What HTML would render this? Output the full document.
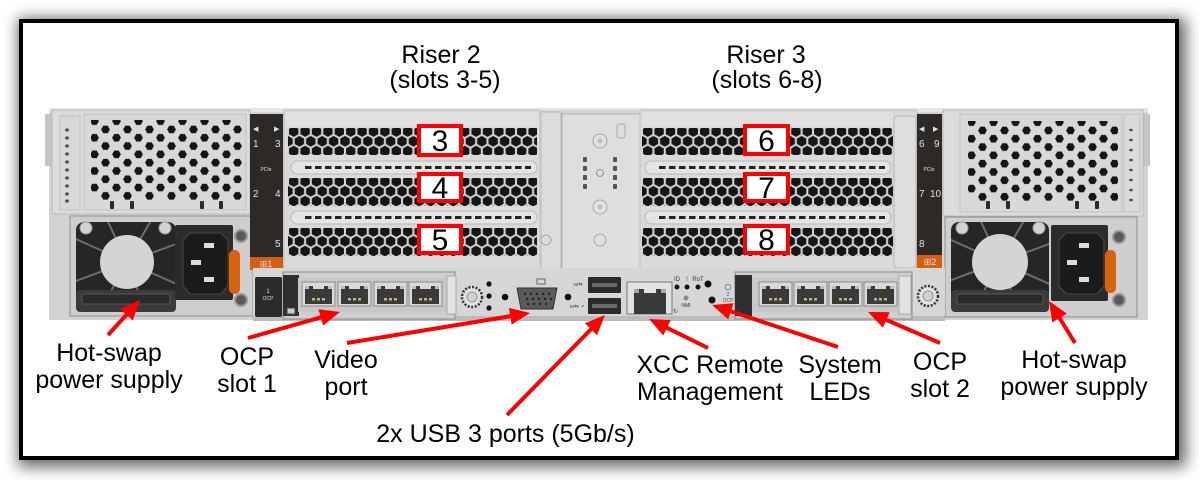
<!DOCTYPE html>
<html><head><meta charset="utf-8"><title>Server rear view</title>
<style>
html,body{margin:0;padding:0;background:#fff;}
body{width:1199px;height:480px;overflow:hidden;position:relative;}
#frame{position:absolute;left:19px;top:19px;width:1160px;height:441px;box-sizing:border-box;border:4px solid #000;background:#fff;box-shadow:3px 3px 14px 4px rgba(0,0,0,0.6);}
svg{position:absolute;left:0;top:0;}
</style></head><body>
<div id="frame"></div>
<svg width="1199" height="480" viewBox="0 0 1199 480" xmlns="http://www.w3.org/2000/svg" font-family="'Liberation Sans', Arial, sans-serif">
<defs>
  <pattern id="vent" width="22" height="16.6" patternUnits="userSpaceOnUse">
    <rect width="22" height="16.6" fill="#d8d8d8"/>
    <polygon points="1.1,4.15 3.3,0.34 7.7,0.34 9.9,4.15 7.7,7.96 3.3,7.96" fill="#151515"/>
    <polygon points="12.1,12.45 14.3,8.64 18.7,8.64 20.9,12.45 18.7,16.26 14.3,16.26" fill="#151515"/>
  </pattern>
  <pattern id="slot" width="11.4" height="19.6" patternUnits="userSpaceOnUse">
    <rect width="11.4" height="19.6" fill="#d3d3d3"/>
    <polygon points="5.7,-0.5 10.38,2.2 10.38,7.6 5.7,10.3 1.02,7.6 1.02,2.2" fill="#161616"/>
    <polygon points="5.7,19.1 10.38,21.8 10.38,27.2 5.7,29.9 1.02,27.2 1.02,21.8" fill="#161616"/>
    <polygon points="0,9.3 4.68,12 4.68,17.4 0,20.1 -4.68,17.4 -4.68,12" fill="#161616"/>
    <polygon points="11.4,9.3 16.08,12 16.08,17.4 11.4,20.1 6.72,17.4 6.72,12" fill="#161616"/>
    <polygon points="0,-10.3 4.68,-7.6 4.68,-2.2 0,0.5 -4.68,-2.2 -4.68,-7.6" fill="#161616"/>
    <polygon points="11.4,-10.3 16.08,-7.6 16.08,-2.2 11.4,0.5 6.72,-2.2 6.72,-7.6" fill="#161616"/>
  </pattern>
  <marker id="ah" viewBox="0 0 20 17" markerWidth="20" markerHeight="17" refX="10" refY="8.5" orient="auto" markerUnits="userSpaceOnUse">
    <path d="M0,0 L20,8.5 L0,17 z" fill="#ff0000"/>
  </marker>
  <clipPath id="fanL"><rect x="76" y="222" width="100" height="90" rx="8"/></clipPath>
  <clipPath id="fanR"><rect x="951" y="222" width="98" height="90" rx="8"/></clipPath>
  <g id="rj">
    <rect width="33" height="24" fill="#dadada" stroke="#8a8a8a"/>
    <rect x="3" y="4" width="27" height="18" fill="#3a3a3a"/>
    <rect x="11" y="4" width="11" height="3" fill="#d9d9d9"/>
    <rect x="3" y="4" width="4" height="3" fill="#bdbdbd"/>
    <rect x="26" y="4" width="4" height="3" fill="#bdbdbd"/>
    <rect x="10" y="16" width="3" height="2.5" fill="#c9b57a"/>
    <rect x="15" y="16" width="3" height="2.5" fill="#c9b57a"/>
    <rect x="20" y="16" width="3" height="2.5" fill="#c9b57a"/>
  </g>
  <g id="sep">
    <rect x="0" y="0" width="246" height="13" rx="6.5" fill="#e4e4e4" stroke="#b9b9b9"/>
    <line x1="14" y1="6.5" x2="240" y2="6.5" stroke="#222" stroke-width="3" stroke-dasharray="6.5 3.5"/>
  </g>
  <g id="knob">
    <circle r="10" fill="#e2e2e2" stroke="#333" stroke-width="2.5" stroke-dasharray="2 1.6"/>
    <circle r="5" fill="#d0d0d0" stroke="#999"/>
  </g>
</defs>

<!-- chassis base -->
<rect x="49" y="108" width="1099" height="212" fill="#d3d3d3"/>
<rect x="49" y="108" width="1099" height="4" fill="#e6e6e6"/>
<rect x="45" y="114" width="7" height="52" fill="#c4c4c4"/>
<rect x="1143" y="114" width="7" height="52" fill="#c4c4c4"/>

<!-- left vent -->
<rect x="52" y="110" width="198" height="104" fill="#dcdcdc" stroke="#b8b8b8"/>
<rect x="60" y="116" width="20" height="94" fill="#d8d8d8" stroke="#c0c0c0"/>
<rect x="84" y="114" width="162" height="96" fill="#d8d8d8" stroke="#c2c2c2"/>
<g transform="translate(89,117)"><rect x="2" y="3" width="152" height="80" fill="url(#vent)"/></g>
<g fill="#555">
<ellipse cx="67" cy="130" rx="2" ry="1.6"/><ellipse cx="67" cy="138" rx="2" ry="1.6"/><ellipse cx="67" cy="146" rx="2" ry="1.6"/><ellipse cx="67" cy="154" rx="2" ry="1.6"/><ellipse cx="67" cy="162" rx="2" ry="1.6"/><ellipse cx="67" cy="170" rx="2" ry="1.6"/><ellipse cx="67" cy="178" rx="2" ry="1.6"/><ellipse cx="67" cy="186" rx="2" ry="1.6"/><ellipse cx="67" cy="194" rx="2" ry="1.6"/><ellipse cx="67" cy="201" rx="2" ry="1.6"/>
</g>
<g fill="#2a2a2a"><rect x="110" y="201" width="4" height="8" rx="1"/><rect x="130" y="201" width="4" height="8" rx="1"/><rect x="200" y="201" width="4" height="8" rx="1"/><rect x="219" y="201" width="4" height="8" rx="1"/></g>

<!-- left PSU -->
<rect x="70" y="216" width="183" height="100" fill="#cecece" stroke="#8d8d8d"/>
<rect x="76" y="222" width="100" height="90" rx="8" fill="#262626"/>
<g clip-path="url(#fanL)" stroke="#6c6c6c" stroke-width="2">
<line x1="127" y1="262" x2="187" y2="240"/><line x1="127" y1="262" x2="160" y2="205"/><line x1="127" y1="262" x2="100" y2="205"/><line x1="127" y1="262" x2="67" y2="235"/><line x1="127" y1="262" x2="65" y2="285"/><line x1="127" y1="262" x2="95" y2="320"/><line x1="127" y1="262" x2="150" y2="322"/><line x1="127" y1="262" x2="190" y2="290"/>
</g>
<circle cx="127" cy="262" r="27" fill="#d4d4d4"/>
<rect x="76" y="290" width="100" height="22" rx="4" fill="#3a3a3a"/>
<rect x="82" y="294" width="88" height="10" rx="2" fill="#2a2a2a" stroke="#555"/>
<circle cx="86" cy="228" r="6" fill="#d2d2d2" stroke="#999"/>
<circle cx="165" cy="228" r="6" fill="#d2d2d2" stroke="#999"/>
<rect x="175" y="225" width="58" height="75" rx="2" fill="#2b2b2b"/>
<polygon points="190,233 221,233 228,240 228,286 221,294 190,294 183,286 183,240" fill="#1b1b1b" stroke="#4a4a4a"/>
<rect x="204" y="243" width="10" height="5" fill="#dcdcdc"/>
<rect x="191" y="260" width="10" height="5" fill="#dcdcdc"/>
<rect x="204" y="277" width="10" height="5" fill="#dcdcdc"/>
<circle cx="241" cy="236" r="6" fill="#5a5a5a" stroke="#999" stroke-width="2"/>
<circle cx="241" cy="300" r="6" fill="#5a5a5a" stroke="#999" stroke-width="2"/>
<rect x="229" y="250" width="11" height="44" rx="5" fill="#d9620e"/>

<!-- left PCIe strip -->
<rect x="250" y="114" width="33" height="143" fill="#2d2926"/>
<rect x="250" y="257" width="33" height="13" fill="#d35f10"/>
<g fill="#e0e0e0" font-size="10">
<text x="253" y="131" font-size="7">◀</text><text x="274" y="131" font-size="7">▶</text>
<text x="253" y="147">1</text><text x="275" y="147">3</text>
<text x="266" y="171" font-size="5" text-anchor="middle">PCIe</text>
<text x="253" y="197">2</text><text x="275" y="197">4</text>
<text x="275" y="247">5</text>
<text x="266" y="267" font-size="9" text-anchor="middle">⊞1</text>
</g>

<!-- riser 2 cage -->
<rect x="284" y="110" width="256" height="160" fill="#dadada" stroke="#bdbdbd"/>
<rect x="286" y="112" width="252" height="14" fill="#e0e0e0"/>
<g transform="translate(288,126.6)"><rect x="0" y="1.4" width="249" height="27" fill="url(#slot)"/></g>
<g transform="translate(288,176.6)"><rect x="0" y="1.4" width="249" height="28" fill="url(#slot)"/></g>
<g transform="translate(288,226.6)"><rect x="0" y="1.4" width="249" height="28" fill="url(#slot)"/></g>
<use href="#sep" x="291" y="161"/>
<use href="#sep" x="291" y="211"/>

<!-- center plate -->
<rect x="540" y="110" width="100" height="172" fill="#d4d4d4"/>
<rect x="541" y="112" width="20" height="165" fill="#dcdcdc" stroke="#b8b8b8"/>
<rect x="562" y="114" width="78" height="162" fill="#dedede" stroke="#b0b0b0"/>
<circle cx="600" cy="141" r="7" fill="#e2e2e2" stroke="#a8a8a8"/><circle cx="600" cy="141" r="2.5" fill="#bdbdbd"/>
<circle cx="600" cy="207" r="7" fill="#e2e2e2" stroke="#a8a8a8"/><circle cx="600" cy="207" r="2.5" fill="#bdbdbd"/>
<rect x="617" y="124" width="8" height="14" rx="2" fill="none" stroke="#aaa"/>
<g fill="#555"><rect x="583" y="157" width="4" height="5" rx="1"/><rect x="583" y="166" width="4" height="5" rx="1"/><rect x="583" y="175" width="4" height="5" rx="1"/><rect x="583" y="184" width="4" height="5" rx="1"/>
<rect x="613" y="157" width="4" height="5" rx="1"/><rect x="613" y="166" width="4" height="5" rx="1"/><rect x="613" y="175" width="4" height="5" rx="1"/><rect x="613" y="184" width="4" height="5" rx="1"/></g>
<circle cx="600" cy="173" r="3.5" fill="none" stroke="#999"/>
<circle cx="600" cy="240" r="6" fill="none" stroke="#aaa"/>
<circle cx="546" cy="240" r="5" fill="none" stroke="#aaa"/>

<!-- riser 3 cage -->
<rect x="640" y="110" width="277" height="160" fill="#dadada" stroke="#bdbdbd"/>
<rect x="642" y="112" width="251" height="14" fill="#e0e0e0"/>
<g transform="translate(642,126.6)"><rect x="0" y="1.4" width="251" height="27" fill="url(#slot)"/></g>
<g transform="translate(642,176.6)"><rect x="0" y="1.4" width="251" height="28" fill="url(#slot)"/></g>
<g transform="translate(642,226.6)"><rect x="0" y="1.4" width="251" height="28" fill="url(#slot)"/></g>
<use href="#sep" x="645" y="161"/>
<use href="#sep" x="645" y="211"/>
<rect x="894" y="116" width="22" height="152" rx="3" fill="#dedede" stroke="#b5b5b5"/>

<!-- right PCIe strip -->
<rect x="917" y="114" width="25" height="141" fill="#2d2926"/>
<rect x="917" y="255" width="25" height="13" fill="#d35f10"/>
<g fill="#e0e0e0" font-size="10">
<text x="919" y="131" font-size="7">◀</text><text x="933" y="131" font-size="7">▶</text>
<text x="919" y="147">6</text><text x="934" y="147">9</text>
<text x="929" y="171" font-size="5" text-anchor="middle">PCIe</text>
<text x="919" y="197">7</text><text x="930" y="197">10</text>
<text x="919" y="247">8</text>
<text x="930" y="265" font-size="9" text-anchor="middle">⊞2</text>
</g>

<!-- right vent -->
<rect x="943" y="110" width="200" height="106" fill="#dcdcdc" stroke="#b8b8b8"/>
<rect x="960" y="114" width="162" height="98" fill="#d8d8d8" stroke="#c2c2c2"/>
<rect x="1124" y="114" width="16" height="98" fill="#dadada" stroke="#c0c0c0"/>
<g transform="translate(966,118)"><rect x="2" y="3" width="150" height="80" fill="url(#vent)"/></g>
<g fill="#555">
<ellipse cx="1131" cy="130" rx="2" ry="1.3"/><ellipse cx="1131" cy="140" rx="2" ry="1.3"/><ellipse cx="1131" cy="150" rx="2" ry="1.3"/><ellipse cx="1131" cy="160" rx="2" ry="1.3"/><ellipse cx="1131" cy="170" rx="2" ry="1.3"/><ellipse cx="1131" cy="180" rx="2" ry="1.3"/><ellipse cx="1131" cy="190" rx="2" ry="1.3"/><ellipse cx="1131" cy="200" rx="2" ry="1.3"/>
</g>
<g fill="#2a2a2a"><rect x="986" y="201" width="4" height="8" rx="1"/><rect x="1006" y="201" width="4" height="8" rx="1"/><rect x="1075" y="201" width="4" height="8" rx="1"/><rect x="1095" y="201" width="4" height="8" rx="1"/></g>

<!-- right PSU -->
<rect x="945" y="217" width="192" height="100" fill="#cecece" stroke="#8d8d8d"/>
<rect x="951" y="222" width="98" height="90" rx="8" fill="#262626"/>
<g clip-path="url(#fanR)" stroke="#6c6c6c" stroke-width="2">
<line x1="1000" y1="262" x2="1060" y2="240"/><line x1="1000" y1="262" x2="1033" y2="205"/><line x1="1000" y1="262" x2="973" y2="205"/><line x1="1000" y1="262" x2="940" y2="235"/><line x1="1000" y1="262" x2="938" y2="285"/><line x1="1000" y1="262" x2="968" y2="320"/><line x1="1000" y1="262" x2="1023" y2="322"/><line x1="1000" y1="262" x2="1063" y2="290"/>
</g>
<circle cx="1000" cy="262" r="28" fill="#d4d4d4"/>
<rect x="951" y="290" width="98" height="22" rx="4" fill="#3a3a3a"/>
<rect x="957" y="294" width="86" height="10" rx="2" fill="#2a2a2a" stroke="#555"/>
<circle cx="962" cy="228" r="6" fill="#d2d2d2" stroke="#999"/>
<circle cx="1039" cy="228" r="6" fill="#d2d2d2" stroke="#999"/>
<rect x="1051" y="225" width="57" height="76" rx="2" fill="#2b2b2b"/>
<polygon points="1066,233 1097,233 1104,240 1104,286 1097,294 1066,294 1059,286 1059,240" fill="#1b1b1b" stroke="#4a4a4a"/>
<rect x="1079" y="243" width="10" height="5" fill="#dcdcdc"/>
<rect x="1067" y="260" width="10" height="5" fill="#dcdcdc"/>
<rect x="1079" y="277" width="10" height="5" fill="#dcdcdc"/>
<circle cx="1119" cy="237" r="6" fill="#5a5a5a" stroke="#999" stroke-width="2"/>
<circle cx="1119" cy="300" r="6" fill="#5a5a5a" stroke="#999" stroke-width="2"/>
<rect x="1105" y="250" width="11" height="43" rx="5" fill="#d9620e"/>

<!-- I/O strip -->
<rect x="253" y="268" width="692" height="50" fill="#d6d6d6"/>
<rect x="253" y="316" width="692" height="5" fill="#bcbcbc"/>
<rect x="255" y="277" width="27" height="40" rx="2" fill="#2b2b2b"/>
<text x="268" y="293" font-size="6" fill="#ddd" text-anchor="middle">1</text>
<text x="268" y="300" font-size="5" fill="#ddd" text-anchor="middle">OCP</text>

<!-- OCP 1 -->
<rect x="283" y="272" width="172" height="47" fill="#cfcfcf" stroke="#888"/>
<rect x="283" y="275" width="16" height="41" fill="#2f2f2f"/>
<rect x="287" y="308" width="8" height="6" fill="#ccc" stroke="#444"/>
<rect x="298" y="278" width="149" height="34" fill="#c8c8c8"/>
<use href="#rj" x="302" y="282"/><use href="#rj" x="338" y="282"/><use href="#rj" x="374" y="282"/><use href="#rj" x="409" y="282"/>
<rect x="447" y="276" width="9" height="38" fill="#e2e2e2" stroke="#aaa"/>

<use href="#knob" x="472" y="297"/>
<circle cx="489" cy="284" r="2.6" fill="#111"/><circle cx="489" cy="296" r="2.6" fill="#111"/><circle cx="489" cy="308" r="2.6" fill="#111"/>

<!-- video -->
<circle cx="505" cy="297" r="3.3" fill="#111"/>
<circle cx="568" cy="297" r="3.3" fill="#111"/>
<path d="M517,288 L557,288 L553,309 L521,309 Z" fill="#5a5a5a" stroke="#333" stroke-linejoin="round"/>
<g fill="#222"><circle cx="525" cy="294" r="1.2"/><circle cx="531" cy="294" r="1.2"/><circle cx="537" cy="294" r="1.2"/><circle cx="543" cy="294" r="1.2"/><circle cx="549" cy="294" r="1.2"/>
<circle cx="527" cy="299" r="1.2"/><circle cx="533" cy="299" r="1.2"/><circle cx="539" cy="299" r="1.2"/><circle cx="545" cy="299" r="1.2"/><circle cx="551" cy="299" r="1.2"/>
<circle cx="528" cy="304" r="1.2"/><circle cx="534" cy="304" r="1.2"/><circle cx="540" cy="304" r="1.2"/><circle cx="546" cy="304" r="1.2"/></g>
<rect x="537" y="279" width="8" height="5" fill="none" stroke="#666"/>

<!-- USB -->
<rect x="588" y="277" width="33" height="16" rx="1" fill="#2b2b2b"/>
<rect x="592" y="283" width="25" height="4" fill="#6a6a6a"/>
<rect x="588" y="298" width="33" height="16" rx="1" fill="#2b2b2b"/>
<rect x="592" y="304" width="25" height="4" fill="#6a6a6a"/>
<text x="578" y="286" font-size="5" fill="#444" text-anchor="middle">ss⇆</text>
<text x="577" y="308" font-size="5" fill="#444" text-anchor="middle">ss⇆ ↗</text>

<!-- XCC RJ45 -->
<rect x="627" y="282" width="45" height="32" fill="#e2e2e2" stroke="#777"/>
<rect x="634" y="289" width="32" height="25" fill="#3a3a3a"/>
<rect x="644" y="289" width="12" height="4" fill="#e2e2e2"/>
<rect x="634" y="289" width="5" height="4" fill="#aaa"/><rect x="661" y="289" width="5" height="4" fill="#aaa"/>
<text x="673" y="313" font-size="6" fill="#444">↻</text>

<!-- LEDs -->
<g font-size="6" fill="#333" text-anchor="middle"><text x="677" y="281">ID</text><text x="687" y="281">!</text><text x="698" y="281">RoT</text><text x="686" y="307" font-size="5">NMI</text></g>
<circle cx="677" cy="287" r="2.5" fill="#111"/><circle cx="687" cy="287" r="2.5" fill="#111"/><circle cx="698" cy="287" r="2.5" fill="#111"/>
<circle cx="686" cy="298" r="2.5" fill="#8a8a8a"/>
<circle cx="708" cy="284" r="3.5" fill="#111"/><circle cx="712" cy="300" r="3.5" fill="#111"/>
<circle cx="728" cy="287" r="2.8" fill="none" stroke="#888"/>
<text x="728" y="296" font-size="5" fill="#555" text-anchor="middle">2</text>
<text x="728" y="302" font-size="5" fill="#555" text-anchor="middle">OCP</text>

<!-- OCP 2 -->
<rect x="735" y="272" width="177" height="47" fill="#cfcfcf" stroke="#888"/>
<rect x="735" y="275" width="17" height="41" fill="#2f2f2f"/>
<rect x="752" y="278" width="148" height="34" fill="#c8c8c8"/>
<use href="#rj" x="759" y="282"/><use href="#rj" x="794" y="282"/><use href="#rj" x="829" y="282"/><use href="#rj" x="864" y="282"/>
<rect x="899" y="276" width="12" height="38" fill="#e2e2e2" stroke="#aaa"/>
<use href="#knob" x="928" y="296"/>

<!-- red numbered boxes -->
<g fill="#fff" stroke="#ff0000" stroke-width="4">
<rect x="419" y="126" width="42" height="29"/>
<rect x="419" y="174" width="42" height="27"/>
<rect x="419" y="226" width="42" height="27"/>
<rect x="745" y="126" width="43" height="28"/>
<rect x="745" y="174" width="43" height="27"/>
<rect x="745" y="226" width="43" height="27"/>
</g>
<g font-size="30" fill="#000" text-anchor="middle">
<text x="440" y="151">3</text><text x="440" y="198">4</text><text x="440" y="250">5</text>
<text x="766.5" y="151">6</text><text x="766.5" y="198">7</text><text x="766.5" y="250">8</text>
</g>

<!-- top labels -->
<g font-size="25" fill="#000" text-anchor="middle">
<text x="441" y="63">Riser 2</text><text x="445" y="88">(slots 3-5)</text>
<text x="766" y="63">Riser 3</text><text x="767" y="88">(slots 6-8)</text>
</g>

<!-- arrows -->
<g stroke="#ff0000" stroke-width="4" marker-end="url(#ah)">
<line x1="108" y1="335" x2="133.2" y2="307.4"/>
<line x1="248" y1="338" x2="330.4" y2="314.7"/>
<line x1="347" y1="343" x2="520.1" y2="314.6"/>
<line x1="507" y1="415" x2="598" y2="322.1"/>
<line x1="708" y1="348" x2="658" y2="323.4"/>
<line x1="838" y1="347" x2="721.5" y2="308.2"/>
<line x1="940" y1="343" x2="877.2" y2="316"/>
<line x1="1075" y1="343" x2="1054.3" y2="309.5"/>
</g>

<!-- bottom labels -->
<g font-size="25" fill="#000" text-anchor="middle">
<text x="109" y="361">Hot-swap</text><text x="109" y="388">power supply</text>
<text x="247" y="365">OCP</text><text x="247" y="392">slot 1</text>
<text x="346" y="368">Video</text><text x="346" y="395">port</text>
<text x="505.5" y="442">2x USB 3 ports (5Gb/s)</text>
<text x="710" y="373">XCC Remote</text><text x="710" y="400">Management</text>
<text x="840" y="373">System</text><text x="840" y="400">LEDs</text>
<text x="940" y="370">OCP</text><text x="940" y="397">slot 2</text>
<text x="1074" y="368">Hot-swap</text><text x="1074" y="395">power supply</text>
</g>
</svg>
</body></html>
